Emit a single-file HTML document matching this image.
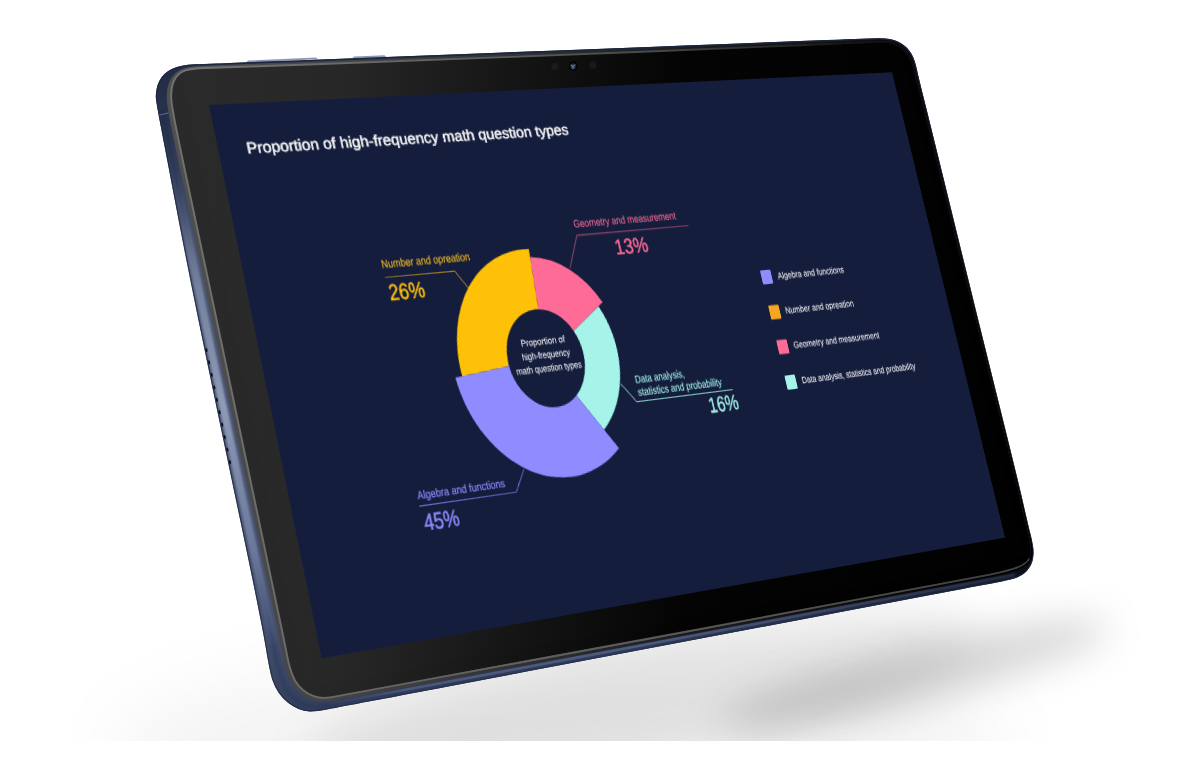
<!DOCTYPE html>
<html lang="en"><head><meta charset="utf-8"><title>Proportion of high-frequency math question types</title>
<style>
html,body{margin:0;padding:0}
body{width:1200px;height:760px;background:#fff;overflow:hidden;position:relative;font-family:"Liberation Sans",Arial,sans-serif}
#bg{position:absolute;left:0;top:0;width:1200px;height:741px;overflow:hidden;background:#fff}
#shadow0{position:absolute;left:110px;top:655px;width:900px;height:200px;border-radius:50%;background:rgba(0,0,0,.045);filter:blur(36px)}
#shadow{position:absolute;left:300px;top:636px;width:680px;height:124px;border-radius:50%;background:rgba(0,0,0,.085);transform:rotate(-11deg);filter:blur(24px)}
#shadow2{position:absolute;left:715px;top:648px;width:400px;height:54px;border-radius:50%;background:rgba(0,0,0,.16);transform:rotate(-14deg);filter:blur(19px)}
#plane{position:absolute;left:0;top:0;width:800px;height:450px;transform-origin:0 0;transform:matrix3d(1.0560123,-0.024480873,0,0.00022675141,0.22836776,1.1850359,0,-6.795541e-05,0,0,1,0,209,105,0,1)}
#inner{position:absolute;left:0;top:0;width:1600px;height:900px;transform-origin:0 0;transform:scale(0.5)}
#screen{position:absolute;left:0;top:0;width:1600px;height:900px;background:#151d3d;overflow:hidden}
svg text{font-family:"Liberation Sans",Arial,sans-serif}
</style></head><body>
<div id="bg"><div id="shadow0"></div><div id="shadow"></div><div id="shadow2"></div></div>
<svg id="body" width="1200" height="760" viewBox="0 0 1200 760" style="position:absolute;left:0;top:0">
 <defs>
  <linearGradient id="gFrame" gradientUnits="userSpaceOnUse" x1="160" y1="0" x2="1030" y2="0">
   <stop offset="0" stop-color="#4a5672"/><stop offset=".2" stop-color="#414d6a"/><stop offset=".6" stop-color="#1c2438"/><stop offset="1" stop-color="#0b0e16"/>
  </linearGradient>
  <linearGradient id="gBezel" gradientUnits="userSpaceOnUse" x1="170" y1="0" x2="1030" y2="0">
   <stop offset="0" stop-color="#2a2a2a"/><stop offset=".2" stop-color="#262626"/><stop offset=".42" stop-color="#121212"/><stop offset=".6" stop-color="#030303"/><stop offset="1" stop-color="#000"/>
  </linearGradient>
  <linearGradient id="gRim" gradientUnits="userSpaceOnUse" x1="170" y1="0" x2="1030" y2="0">
   <stop offset="0" stop-color="#727272"/><stop offset=".3" stop-color="#626262"/><stop offset=".56" stop-color="#484848"/><stop offset=".8" stop-color="#131313"/><stop offset="1" stop-color="#080808"/>
  </linearGradient>
  <linearGradient id="gGlass" gradientUnits="userSpaceOnUse" x1="170" y1="0" x2="1030" y2="0">
   <stop offset="0" stop-color="#505050"/><stop offset=".3" stop-color="#3c3c3c"/><stop offset=".6" stop-color="#1c1c1c"/><stop offset="1" stop-color="#000"/>
  </linearGradient>
  <linearGradient id="gHiL" gradientUnits="userSpaceOnUse" x1="0" y1="165" x2="0" y2="648">
   <stop offset="0" stop-color="#8d99b4" stop-opacity="0"/><stop offset=".25" stop-color="#8d99b4" stop-opacity=".7"/><stop offset=".5" stop-color="#939fba" stop-opacity=".95"/><stop offset=".8" stop-color="#7f8db0" stop-opacity=".7"/><stop offset="1" stop-color="#7f8db0" stop-opacity="0"/>
  </linearGradient>
  <linearGradient id="gHiB" gradientUnits="userSpaceOnUse" x1="324" y1="0" x2="1020" y2="0">
   <stop offset="0" stop-color="#66759b" stop-opacity="0"/><stop offset=".12" stop-color="#66759b" stop-opacity=".85"/><stop offset=".45" stop-color="#5b6a90" stop-opacity=".8"/><stop offset="1" stop-color="#3c4866" stop-opacity=".25"/>
  </linearGradient>
  <linearGradient id="gRimT" gradientUnits="userSpaceOnUse" x1="170" y1="0" x2="1030" y2="0">
   <stop offset="0" stop-color="#555"/><stop offset=".4" stop-color="#3c3c3c"/><stop offset=".75" stop-color="#1d1d1d"/><stop offset="1" stop-color="#181818"/>
  </linearGradient>
  <filter id="b3" x="-20%" y="-20%" width="140%" height="140%"><feGaussianBlur stdDeviation="0.45"/></filter>
  <linearGradient id="gBase" gradientUnits="userSpaceOnUse" x1="160" y1="0" x2="1030" y2="0">
   <stop offset="0" stop-color="#38456a" stop-opacity=".85"/><stop offset=".5" stop-color="#38456a" stop-opacity=".8"/><stop offset="1" stop-color="#38456a" stop-opacity=".3"/>
  </linearGradient>
  <linearGradient id="gRimB" gradientUnits="userSpaceOnUse" x1="400" y1="0" x2="1030" y2="0">
   <stop offset="0" stop-color="#666" stop-opacity="0"/><stop offset=".15" stop-color="#636363" stop-opacity=".9"/><stop offset=".6" stop-color="#555" stop-opacity="1"/><stop offset="1" stop-color="#3e3e3e" stop-opacity="1"/>
  </linearGradient>
  <linearGradient id="gDarkV" gradientUnits="userSpaceOnUse" x1="0" y1="60" x2="0" y2="715">
   <stop offset="0" stop-color="#1a233c" stop-opacity=".85"/><stop offset=".09" stop-color="#1a233c" stop-opacity=".7"/><stop offset=".3" stop-color="#1a233c" stop-opacity="0"/><stop offset=".86" stop-color="#1f2945" stop-opacity="0"/><stop offset="1" stop-color="#1f2945" stop-opacity=".45"/>
  </linearGradient>
  <filter id="b1" x="-20%" y="-20%" width="140%" height="140%"><feGaussianBlur stdDeviation="1.2"/></filter>
  <filter id="b2" x="-20%" y="-20%" width="140%" height="140%"><feGaussianBlur stdDeviation="0.7"/></filter>
  <clipPath id="cOuter"><path d="M155.8 96.0Q156.0 92.0 156.7 88.5Q157.3 85.0 159.3 81.0Q161.3 77.0 164.7 73.8Q168.0 70.7 172.3 68.7Q176.7 66.7 182.0 65.7Q187.3 64.7 195.3 64.3Q203.3 64.0 216.7 63.5Q230.0 63.0 315.0 59.7Q400.0 56.4 485.0 53.2Q570.0 50.0 655.0 46.7Q740.0 43.4 800.0 41.0Q860.0 38.7 870.0 38.4Q880.0 38.0 885.0 38.4Q890.0 38.7 893.6 39.9Q897.3 41.0 900.6 43.0Q904.0 45.0 906.6 47.6Q909.3 50.3 911.3 53.6Q913.3 57.0 914.6 61.0Q916.0 65.0 917.0 70.0Q918.0 75.0 923.6 97.5Q929.3 120.0 951.9 212.5Q974.5 305.0 996.2 392.5Q1018.0 480.0 1023.6 505.0Q1029.3 530.0 1030.7 535.0Q1032.0 540.0 1032.8 545.0Q1033.7 550.0 1033.5 554.0Q1033.3 558.0 1032.3 561.4Q1031.3 564.7 1029.3 567.7Q1027.3 570.7 1024.7 573.0Q1022.0 575.3 1017.6 577.3Q1013.3 579.3 1001.6 581.5Q990.0 583.7 820.0 615.9Q650.0 648.1 525.0 671.8Q400.0 695.5 370.0 701.2Q340.0 706.9 328.0 709.2Q316.0 711.5 310.0 711.4Q304.0 711.3 298.6 709.0Q293.3 706.7 288.0 702.7Q282.7 698.7 278.7 692.7Q274.7 686.7 272.4 680.0Q270.0 673.3 265.6 646.6Q261.3 620.0 234.4 492.5Q207.6 365.0 195.9 307.5Q184.2 250.0 174.8 200.0Q165.3 150.0 160.5 125.0Q155.7 100.0 155.8 96.0Z"/></clipPath>
 </defs>
 <!-- buttons on top edge -->
 <path d="M246 62.6L248 60.6L316 57.6L318 59.2Z" fill="#8d99b3"/>
 <path d="M352 58.7L354 56.6L384.5 55.2L386.5 56.9Z" fill="#8d99b3"/>
 <path d="M155.8 96.0Q156.0 92.0 156.7 88.5Q157.3 85.0 159.3 81.0Q161.3 77.0 164.7 73.8Q168.0 70.7 172.3 68.7Q176.7 66.7 182.0 65.7Q187.3 64.7 195.3 64.3Q203.3 64.0 216.7 63.5Q230.0 63.0 315.0 59.7Q400.0 56.4 485.0 53.2Q570.0 50.0 655.0 46.7Q740.0 43.4 800.0 41.0Q860.0 38.7 870.0 38.4Q880.0 38.0 885.0 38.4Q890.0 38.7 893.6 39.9Q897.3 41.0 900.6 43.0Q904.0 45.0 906.6 47.6Q909.3 50.3 911.3 53.6Q913.3 57.0 914.6 61.0Q916.0 65.0 917.0 70.0Q918.0 75.0 923.6 97.5Q929.3 120.0 951.9 212.5Q974.5 305.0 996.2 392.5Q1018.0 480.0 1023.6 505.0Q1029.3 530.0 1030.7 535.0Q1032.0 540.0 1032.8 545.0Q1033.7 550.0 1033.5 554.0Q1033.3 558.0 1032.3 561.4Q1031.3 564.7 1029.3 567.7Q1027.3 570.7 1024.7 573.0Q1022.0 575.3 1017.6 577.3Q1013.3 579.3 1001.6 581.5Q990.0 583.7 820.0 615.9Q650.0 648.1 525.0 671.8Q400.0 695.5 370.0 701.2Q340.0 706.9 328.0 709.2Q316.0 711.5 310.0 711.4Q304.0 711.3 298.6 709.0Q293.3 706.7 288.0 702.7Q282.7 698.7 278.7 692.7Q274.7 686.7 272.4 680.0Q270.0 673.3 265.6 646.6Q261.3 620.0 234.4 492.5Q207.6 365.0 195.9 307.5Q184.2 250.0 174.8 200.0Q165.3 150.0 160.5 125.0Q155.7 100.0 155.8 96.0Z" fill="url(#gFrame)"/>
 <path d="M155.8 96.0Q156.0 92.0 156.7 88.5Q157.3 85.0 159.3 81.0Q161.3 77.0 164.7 73.8Q168.0 70.7 172.3 68.7Q176.7 66.7 182.0 65.7Q187.3 64.7 195.3 64.3Q203.3 64.0 216.7 63.5Q230.0 63.0 315.0 59.7Q400.0 56.4 485.0 53.2Q570.0 50.0 655.0 46.7Q740.0 43.4 800.0 41.0Q860.0 38.7 870.0 38.4Q880.0 38.0 885.0 38.4Q890.0 38.7 893.6 39.9Q897.3 41.0 900.6 43.0Q904.0 45.0 906.6 47.6Q909.3 50.3 911.3 53.6Q913.3 57.0 914.6 61.0Q916.0 65.0 917.0 70.0Q918.0 75.0 923.6 97.5Q929.3 120.0 951.9 212.5Q974.5 305.0 996.2 392.5Q1018.0 480.0 1023.6 505.0Q1029.3 530.0 1030.7 535.0Q1032.0 540.0 1032.8 545.0Q1033.7 550.0 1033.5 554.0Q1033.3 558.0 1032.3 561.4Q1031.3 564.7 1029.3 567.7Q1027.3 570.7 1024.7 573.0Q1022.0 575.3 1017.6 577.3Q1013.3 579.3 1001.6 581.5Q990.0 583.7 820.0 615.9Q650.0 648.1 525.0 671.8Q400.0 695.5 370.0 701.2Q340.0 706.9 328.0 709.2Q316.0 711.5 310.0 711.4Q304.0 711.3 298.6 709.0Q293.3 706.7 288.0 702.7Q282.7 698.7 278.7 692.7Q274.7 686.7 272.4 680.0Q270.0 673.3 265.6 646.6Q261.3 620.0 234.4 492.5Q207.6 365.0 195.9 307.5Q184.2 250.0 174.8 200.0Q165.3 150.0 160.5 125.0Q155.7 100.0 155.8 96.0Z" fill="none" stroke="#1b2540" stroke-opacity=".8" stroke-width="2.2" clip-path="url(#cOuter)"/>
 <g clip-path="url(#cOuter)">
  <path d="M162 110L170.4 150L190.6 250L214.3 365L268.6 620L277.5 665Q281 678 287.5 691.5Q296.8 703 309 706.3Q319.5 708 340 703.6L400 692.3L650 645.2L990 580.5L1016 575" fill="none" stroke="url(#gBase)" stroke-width="4.5" filter="url(#b1)"/>
  <polyline points="172,160 190.6,250 214.3,365 240.8,490 268.6,620 275,652" fill="none" stroke="url(#gHiL)" stroke-width="8" filter="url(#b1)"/>
  <polyline points="322,704.5 340,701.8 400,690.8 650,643.8 990,579.3 1014,575" fill="none" stroke="url(#gHiB)" stroke-width="2.6" filter="url(#b2)"/>
  <path d="M155.8 96.0Q156.0 92.0 156.7 88.5Q157.3 85.0 159.3 81.0Q161.3 77.0 164.7 73.8Q168.0 70.7 172.3 68.7Q176.7 66.7 182.0 65.7Q187.3 64.7 195.3 64.3Q203.3 64.0 216.7 63.5Q230.0 63.0 315.0 59.7Q400.0 56.4 485.0 53.2Q570.0 50.0 655.0 46.7Q740.0 43.4 800.0 41.0Q860.0 38.7 870.0 38.4Q880.0 38.0 885.0 38.4Q890.0 38.7 893.6 39.9Q897.3 41.0 900.6 43.0Q904.0 45.0 906.6 47.6Q909.3 50.3 911.3 53.6Q913.3 57.0 914.6 61.0Q916.0 65.0 917.0 70.0Q918.0 75.0 923.6 97.5Q929.3 120.0 951.9 212.5Q974.5 305.0 996.2 392.5Q1018.0 480.0 1023.6 505.0Q1029.3 530.0 1030.7 535.0Q1032.0 540.0 1032.8 545.0Q1033.7 550.0 1033.5 554.0Q1033.3 558.0 1032.3 561.4Q1031.3 564.7 1029.3 567.7Q1027.3 570.7 1024.7 573.0Q1022.0 575.3 1017.6 577.3Q1013.3 579.3 1001.6 581.5Q990.0 583.7 820.0 615.9Q650.0 648.1 525.0 671.8Q400.0 695.5 370.0 701.2Q340.0 706.9 328.0 709.2Q316.0 711.5 310.0 711.4Q304.0 711.3 298.6 709.0Q293.3 706.7 288.0 702.7Q282.7 698.7 278.7 692.7Q274.7 686.7 272.4 680.0Q270.0 673.3 265.6 646.6Q261.3 620.0 234.4 492.5Q207.6 365.0 195.9 307.5Q184.2 250.0 174.8 200.0Q165.3 150.0 160.5 125.0Q155.7 100.0 155.8 96.0Z" fill="url(#gDarkV)"/>
  <g fill="#0a0f1f"><ellipse cx="206.5" cy="350.0" rx="1.0" ry="2.1" transform="rotate(-11.5 206.5 350.0)"/><ellipse cx="209.1" cy="362.4" rx="1.0" ry="2.1" transform="rotate(-11.5 209.1 362.4)"/><ellipse cx="211.7" cy="374.9" rx="1.0" ry="2.1" transform="rotate(-11.5 211.7 374.9)"/><ellipse cx="214.3" cy="387.4" rx="1.0" ry="2.1" transform="rotate(-11.5 214.3 387.4)"/><ellipse cx="216.9" cy="399.8" rx="1.0" ry="2.1" transform="rotate(-11.5 216.9 399.8)"/><ellipse cx="219.6" cy="412.2" rx="1.0" ry="2.1" transform="rotate(-11.5 219.6 412.2)"/><ellipse cx="222.2" cy="424.7" rx="1.0" ry="2.1" transform="rotate(-11.5 222.2 424.7)"/><ellipse cx="224.8" cy="437.1" rx="1.0" ry="2.1" transform="rotate(-11.5 224.8 437.1)"/><ellipse cx="227.4" cy="449.6" rx="1.0" ry="2.1" transform="rotate(-11.5 227.4 449.6)"/><ellipse cx="230.0" cy="462.1" rx="1.0" ry="2.1" transform="rotate(-11.5 230.0 462.1)"/></g>
  <path d="M157.5 115.6L168.5 112.9" stroke="#66728f" stroke-width=".9" fill="none"/>
 </g>
 <path d="M166.7 98.3Q166.6 91.7 167.8 86.7Q169.0 81.7 171.5 77.8Q174.0 73.8 177.5 71.4Q181.0 69.0 186.0 67.8Q191.0 66.5 197.2 66.1Q203.3 65.7 216.7 65.2Q230.0 64.8 315.0 61.5Q400.0 58.1 485.0 54.9Q570.0 51.7 655.0 48.4Q740.0 45.0 800.0 42.6Q860.0 40.2 870.0 39.8Q880.0 39.4 884.8 39.7Q889.5 40.0 893.0 41.1Q896.5 42.3 899.8 44.1Q903.0 46.0 905.6 48.5Q908.3 51.0 910.3 54.2Q912.3 57.5 913.6 61.4Q915.0 65.3 916.0 70.2Q917.0 75.0 922.8 97.5Q928.5 120.0 951.1 212.5Q973.7 305.0 995.5 392.5Q1017.2 480.0 1022.9 505.0Q1028.5 530.0 1029.8 535.0Q1031.2 540.0 1032.0 545.0Q1032.7 550.0 1032.5 553.5Q1032.3 557.0 1031.2 559.9Q1030.0 562.7 1027.2 565.1Q1024.5 567.5 1018.2 570.0Q1012.0 572.5 1001.0 574.9Q990.0 577.3 820.0 609.6Q650.0 642.0 525.0 665.2Q400.0 688.5 370.0 694.1Q340.0 699.8 331.6 701.0Q323.2 702.2 317.0 701.2Q310.9 700.2 305.3 697.0Q299.7 693.7 295.4 688.5Q291.0 683.3 288.2 675.4Q285.5 667.5 284.1 661.2Q282.8 655.0 279.2 637.5Q275.6 620.0 248.6 492.5Q221.5 365.0 209.5 307.5Q197.5 250.0 186.8 200.0Q176.0 150.0 171.4 127.5Q166.8 105.0 166.7 98.3Z" fill="url(#gGlass)"/>
 <path d="M171.2 98.3Q171.0 91.7 172.0 86.7Q173.0 81.7 175.5 78.0Q178.0 74.3 181.3 72.2Q184.7 70.0 190.7 69.2Q196.7 68.3 213.3 67.8Q230.0 67.3 315.0 64.2Q400.0 61.0 485.0 57.9Q570.0 54.8 655.0 51.3Q740.0 47.8 800.0 45.2Q860.0 42.6 870.0 42.1Q880.0 41.6 884.5 41.8Q889.0 42.0 892.2 43.0Q895.5 44.0 898.5 45.8Q901.5 47.5 904.0 49.9Q906.5 52.2 908.5 55.4Q910.5 58.5 912.0 62.2Q913.5 66.0 914.5 70.5Q915.6 75.0 921.4 97.5Q927.2 120.0 949.8 212.5Q972.4 305.0 994.2 392.5Q1016.0 480.0 1021.6 505.0Q1027.2 530.0 1028.5 535.0Q1029.8 540.0 1030.4 545.0Q1031.0 550.0 1030.8 553.0Q1030.5 556.0 1029.2 558.5Q1028.0 561.0 1025.2 563.2Q1022.5 565.5 1016.2 567.9Q1010.0 570.3 1000.0 572.5Q990.0 574.6 820.0 606.6Q650.0 638.6 525.0 661.5Q400.0 684.5 370.0 690.1Q340.0 695.7 332.0 697.1Q324.0 698.5 318.6 697.5Q313.3 696.5 308.0 693.5Q302.7 690.5 298.7 685.9Q294.7 681.3 292.1 674.1Q289.5 667.0 288.2 661.0Q287.0 655.0 283.5 637.5Q280.0 620.0 253.0 492.5Q226.0 365.0 214.0 307.5Q202.0 250.0 191.2 200.0Q180.5 150.0 176.0 127.5Q171.5 105.0 171.2 98.3Z" fill="url(#gBezel)"/>
 <path d="M171.2 98.3Q171.0 91.7 172.0 86.7Q173.0 81.7 175.5 78.0Q178.0 74.3 181.3 72.2Q184.7 70.0 190.7 69.2Q196.7 68.3 213.3 67.8Q230.0 67.3 315.0 64.2Q400.0 61.0 485.0 57.9Q570.0 54.8 655.0 51.3Q740.0 47.8 800.0 45.2Q860.0 42.6 870.0 42.1Q880.0 41.6 884.5 41.8Q889.0 42.0 892.2 43.0Q895.5 44.0 898.5 45.8Q901.5 47.5 904.0 49.9Q906.5 52.2 908.5 55.4Q910.5 58.5 912.0 62.2Q913.5 66.0 914.5 70.5Q915.6 75.0 921.4 97.5Q927.2 120.0 949.8 212.5Q972.4 305.0 994.2 392.5Q1016.0 480.0 1021.6 505.0Q1027.2 530.0 1028.5 535.0Q1029.8 540.0 1030.4 545.0Q1031.0 550.0 1030.8 553.0Q1030.5 556.0 1029.2 558.5Q1028.0 561.0 1025.2 563.2Q1022.5 565.5 1016.2 567.9Q1010.0 570.3 1000.0 572.5Q990.0 574.6 820.0 606.6Q650.0 638.6 525.0 661.5Q400.0 684.5 370.0 690.1Q340.0 695.7 332.0 697.1Q324.0 698.5 318.6 697.5Q313.3 696.5 308.0 693.5Q302.7 690.5 298.7 685.9Q294.7 681.3 292.1 674.1Q289.5 667.0 288.2 661.0Q287.0 655.0 283.5 637.5Q280.0 620.0 253.0 492.5Q226.0 365.0 214.0 307.5Q202.0 250.0 191.2 200.0Q180.5 150.0 176.0 127.5Q171.5 105.0 171.2 98.3Z" fill="none" stroke="url(#gRim)" stroke-width="1.9" filter="url(#b3)"/>
 <path d="M400 684.5L650 638.6L990 574.6Q1010 570.3 1016.2 567.9Q1022.5 565.5 1025.2 563.2Q1028 561 1029.2 558.5" fill="none" stroke="url(#gRimB)" stroke-width="1.7" filter="url(#b3)"/>
 <g id="cam">
  <ellipse cx="554.8" cy="66.6" rx="3.6" ry="3.9" fill="#1d1d1d" opacity=".75" filter="url(#b2)"/>
  <ellipse cx="592.8" cy="65.1" rx="3.6" ry="3.9" fill="#1b1b1b" opacity=".75" filter="url(#b2)"/>
  <ellipse cx="573.3" cy="66.2" rx="4.7" ry="5" fill="#040404"/>
  <ellipse cx="573.1" cy="66.3" rx="2.7" ry="2.9" fill="#26334a"/>
  <path d="M571.2 65.2L573 66.6L575 64.9M573 66.6L572.9 68.6" fill="none" stroke="#7287ab" stroke-width="1" stroke-linecap="round"/>
 </g>
</svg>
<div id="plane"><div id="inner">
 <div id="pad" style="position:absolute;left:-40px;top:-70px;width:1680px;height:1010px;background:rgba(255,255,255,0.002)"></div>
 <div id="screen">
 <svg width="1600" height="900" viewBox="0 0 1600 900">
  <text x="57" y="84" font-size="26.5" fill="#f3f3f3" stroke="#f3f3f3" stroke-width="1.15" stroke-linejoin="round" textLength="696" lengthAdjust="spacingAndGlyphs">Proportion of high-frequency math question types</text>
  <path d="M400.1 484.6A190 190 0 0 1 604.1 280.6L596.0 385.3A85.0 85.0 0 0 0 504.8 476.5Z" fill="#ffc107"/>
  <path d="M603.0 294.5A176 176 0 0 1 743.4 384.7L663.8 428.8A85.0 85.0 0 0 0 596.0 385.3Z" fill="#ff6b97"/>
  <path d="M732.1 391.0A163 163 0 0 1 683.0 603.5L638.3 539.6A85.0 85.0 0 0 0 663.8 428.8Z" fill="#a5f3e9"/>
  <path d="M707.1 637.9A205 205 0 0 1 385.1 485.7L504.8 476.5A85.0 85.0 0 0 0 638.3 539.6Z" fill="#8f8cff"/>
  <g fill="none" stroke-width="1.3">
   <polyline points="283,307 432,306.5 453.5,337.6" stroke="#d9a520"/>
   <polyline points="985,263.4 719,263.6 687,319.6" stroke="#e0608a"/>
   <polyline points="743.5,529 771,563.3 1001,563.3" stroke="#a5f3e9"/>
   <polyline points="254,687.2 462,686.8 489,650.8" stroke="#8f8cff"/>
  </g>
  <g font-size="19" stroke-width="0.35">
   <text x="281" y="291" fill="#ecb92a" stroke="#ecb92a" textLength="190" lengthAdjust="spacingAndGlyphs">Number and opreation</text>
   <text x="717" y="249.5" fill="#ea6690" stroke="#ea6690" textLength="243" lengthAdjust="spacingAndGlyphs">Geometry and measurement</text>
   <text x="778" y="531" fill="#a5f3e9" stroke="#a5f3e9" textLength="117" lengthAdjust="spacingAndGlyphs">Data analysis,</text>
   <text x="778" y="553.5" fill="#a5f3e9" stroke="#a5f3e9" textLength="201" lengthAdjust="spacingAndGlyphs">statistics and probability</text>
   <text x="254.5" y="676" fill="#8f8cff" stroke="#8f8cff" textLength="187" lengthAdjust="spacingAndGlyphs">Algebra and functions</text>
  </g>
  <g font-size="38" stroke-width="0.8">
   <text x="284" y="346" fill="#ffc107" stroke="#ffc107" textLength="76" lengthAdjust="spacingAndGlyphs">26%</text>
   <text x="800" y="303.5" fill="#ff6b97" stroke="#ff6b97" textLength="78" lengthAdjust="spacingAndGlyphs">13%</text>
   <text x="935.5" y="598.5" fill="#a5f3e9" stroke="#a5f3e9" textLength="72" lengthAdjust="spacingAndGlyphs">16%</text>
   <text x="256.5" y="727.5" fill="#8f8cff" stroke="#8f8cff" textLength="74" lengthAdjust="spacingAndGlyphs">45%</text>
  </g>
  <g font-size="16.5" fill="#f3f3f3" stroke="#f3f3f3" stroke-width="0.3">
   <text x="541" y="446.5" textLength="99" lengthAdjust="spacingAndGlyphs">Proportion of</text>
   <text x="537" y="470" textLength="108" lengthAdjust="spacingAndGlyphs">high-frequency</text>
   <text x="518" y="493" textLength="147" lengthAdjust="spacingAndGlyphs">math question types</text>
  </g>
  <g>
   <rect x="1134" y="356" width="26" height="26" rx="2.5" fill="#8f8cff"/>
   <rect x="1134" y="421" width="26" height="26" rx="2.5" fill="#f5a623"/>
   <rect x="1134" y="485" width="26" height="26" rx="2.5" fill="#ff6b97"/>
   <rect x="1134" y="550" width="26" height="26" rx="2.5" fill="#a5f3e9"/>
  </g>
  <g font-size="17.3" fill="#f3f3f3" stroke="#f3f3f3" stroke-width="0.3">
   <text x="1175" y="375" textLength="171" lengthAdjust="spacingAndGlyphs">Algebra and functions</text>
   <text x="1174" y="439" textLength="177" lengthAdjust="spacingAndGlyphs">Number and opreation</text>
   <text x="1174.5" y="503" textLength="223" lengthAdjust="spacingAndGlyphs">Geometry and measurement</text>
   <text x="1174.5" y="568" textLength="298" lengthAdjust="spacingAndGlyphs">Data analysis, statistics and probability</text>
  </g>
 </svg>
 </div>
</div></div>
</body></html>
